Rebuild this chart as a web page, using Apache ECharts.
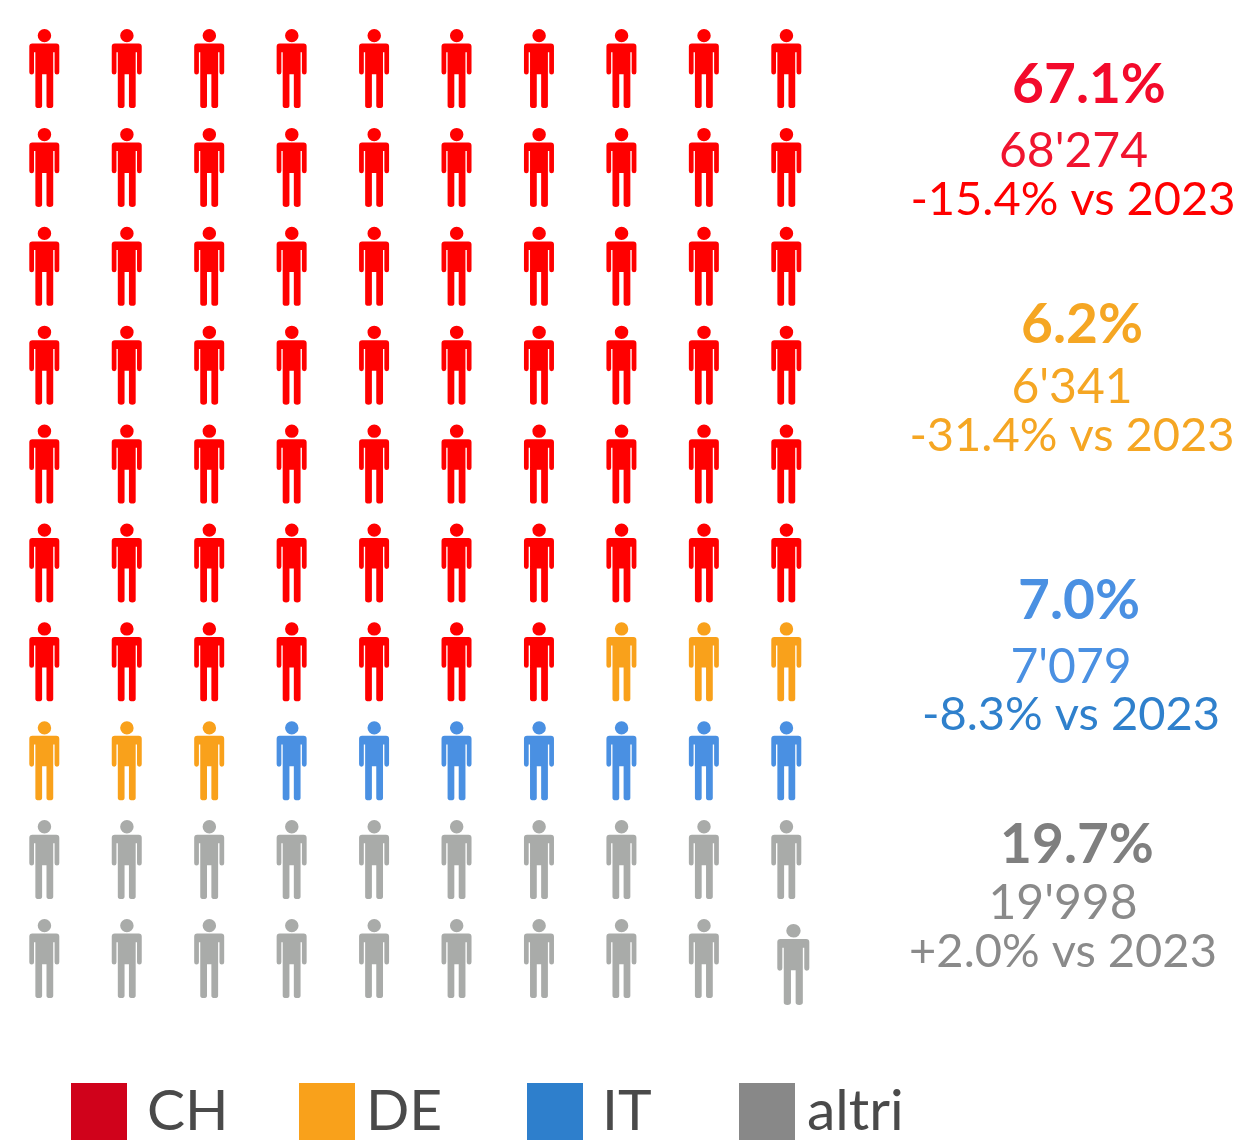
<!DOCTYPE html>
<html>
<head>
<meta charset="utf-8">
<style>html,body{margin:0;padding:0;background:#fff}#c{width:1237px;height:1140px}</style>
<script src="https://cdn.jsdelivr.net/npm/echarts@6/dist/echarts.min.js"></script>
</head>
<body>
<div id="c"></div>
<script>
const categories = ['CH', 'DE', 'IT', 'altri'];
const counts = [67, 6, 7, 20];
const percents = ['67.1%', '6.2%', '7.0%', '19.7%'];
const totals = ["68'274", "6'341", "7'079", "19'998"];
const changes = ['-15.4% vs 2023', '-31.4% vs 2023', '-8.3% vs 2023', '+2.0% vs 2023'];
const markColors = ['#ff0000', '#f9a11b', '#4a90e2', '#a9aba9'];
const legendColors = ['#d0021b', '#f9a11b', '#2e7fcc', '#888888'];
const pctColors = ['#f30a2b', '#f5a623', '#4a90e2', '#7f7f7f'];
const totalColors = ['#f0142f', '#f5a623', '#4a90e2', '#8a8a8a'];
const changeColors = ['#ff0000', '#f5a623', '#2f80cc', '#8a8a8a'];
const pctPos = [[1089, 85], [1082, 325], [1079, 601], [1077, 845]];
const totalPos = [[1073.5, 152], [1072, 388], [1071, 667.5], [1063, 904]];
const changePos = [[1073, 200], [1072, 436], [1071, 715], [1063, 952]];
const legendLeft = [71, 299, 527, 739];
const legendPad = [15, 6, 14, 7];

const person = 'path://M73 27A20 20 0 1 1 72.9 27ZM37 71H108Q117 71 117 80V157Q117 164 110 164Q103 164 103 157V97H99V258Q99 265 89 265Q79 265 79 258V163H66V258Q66 265 56 265Q46 265 46 258V97H42V157Q42 164 35 164Q28 164 28 157V80Q28 71 37 71Z';

let idx = 0;
const series = categories.map((name, c) => {
  const data = [];
  for (let i = 0; i < counts[c]; i++, idx++) {
    const pt = { value: [idx % 10, Math.floor(idx / 10)] };
    if (idx === 99) { pt.symbolSize = [32, 81]; pt.symbolOffset = [7, 6]; }
    data.push(pt);
  }
  return {
    name, type: 'scatter', data, symbol: person, symbolSize: [30, 79],
    itemStyle: { color: markColors[c], opacity: 1 }, clip: false, silent: true
  };
});

const texts = [];
categories.forEach((_, c) => {
  const add = (t, pos, col, size, weight) => texts.push({
    type: 'text', x: pos[0], y: pos[1], silent: true,
    style: { text: t, fill: col, align: 'center', verticalAlign: 'middle',
      font: weight + ' ' + size + 'px Lato, Carlito, "Open Sans", sans-serif' }
  });
  add(percents[c], pctPos[c], pctColors[c], 55, 'bold');
  add(totals[c], totalPos[c], totalColors[c], 48, 'normal');
  add(changes[c], changePos[c], changeColors[c], 47, 'normal');
});

const chart = echarts.init(document.getElementById('c'), null, { renderer: 'canvas' });
chart.setOption({
  animation: false,
  backgroundColor: '#fff',
  grid: { left: 44.3, top: 68.5, width: 742, height: 890 },
  xAxis: { type: 'value', min: 0, max: 9, show: false },
  yAxis: { type: 'value', min: 0, max: 9, inverse: true, show: false },
  legend: categories.map((name, c) => ({
    data: [{ name, icon: 'rect', itemStyle: { color: legendColors[c], opacity: 1 } }],
    left: legendLeft[c], top: 1083, itemWidth: 56, itemHeight: 57, itemGap: 0,
    padding: 0, selectedMode: false,
    textStyle: { fontFamily: 'Lato', fontSize: 57, color: '#4a4a4a', padding: [4, 0, 0, legendPad[c]] }
  })),
  series,
  graphic: texts
});
</script>
</body>
</html>
